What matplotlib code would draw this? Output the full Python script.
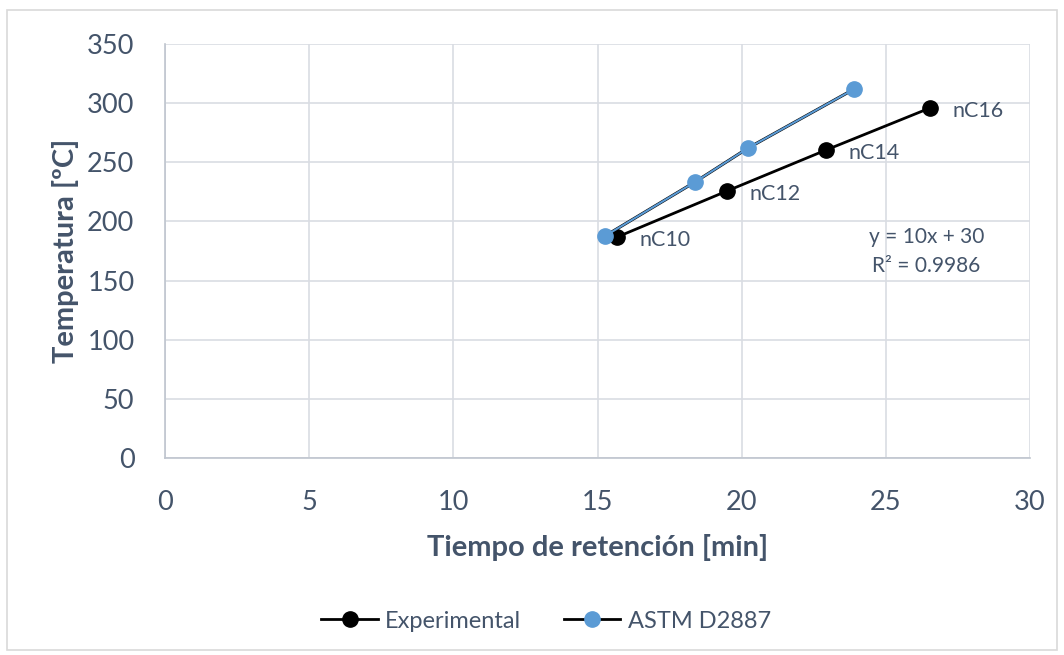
import matplotlib
matplotlib.use("Agg")
import matplotlib.pyplot as plt
from matplotlib.patches import Rectangle
from matplotlib.lines import Line2D

# Retention time [min] vs temperature [ºC]
exp_time = [15.68, 19.49, 22.93, 26.53]
exp_temp = [186.8, 225.7, 260.4, 295.9]
exp_labels = ["nC10", "nC12", "nC14", "nC16"]

astm_time = [15.26, 18.38, 20.22, 23.90]
astm_temp = [187.7, 233.3, 262.0, 311.9]

x_ticks = [0, 5, 10, 15, 20, 25, 30]
y_ticks = [0, 50, 100, 150, 200, 250, 300, 350]

TEXT = "#44546A"
GRID = "#D9DDE3"
BLUE = "#5B9BD5"
FONT = ["Lato", "DejaVu Sans"]
plt.rcParams["font.family"] = FONT

fig = plt.figure(figsize=(10.64, 6.55), dpi=100)
fig.patches.append(Rectangle((7 / 1064, 5 / 655), 1050 / 1064, (655 - 15) / 655,
                             transform=fig.transFigure, fill=False,
                             edgecolor="#D9D9D9", linewidth=1.2))

ax = fig.add_axes([165 / 1064, 1 - 458 / 655, (1030 - 165) / 1064, (458 - 44) / 655])
ax.set_xlim(0, 30)
ax.set_ylim(0, 350)
ax.set_xticks(x_ticks)
ax.set_yticks(y_ticks)
ax.grid(True, color=GRID, linewidth=1.2)
ax.set_axisbelow(True)
for s in ["top", "right"]:
    ax.spines[s].set_visible(False)
for s in ["left", "bottom"]:
    ax.spines[s].set_color("#BFC5CE")
    ax.spines[s].set_linewidth(1.2)
ax.tick_params(length=0, labelsize=19.5, colors=TEXT)
ax.tick_params(axis="y", pad=22)
ax.tick_params(axis="x", pad=23)

ax.plot(exp_time, exp_temp, color="black", linewidth=2, marker="o",
        markersize=11, markerfacecolor="black", markeredgecolor="black", zorder=3)
ax.plot(astm_time, astm_temp, color="black", linewidth=2.2, zorder=3)
ax.plot(astm_time, astm_temp, color=BLUE, linewidth=1.5, marker="o",
        markersize=11, markerfacecolor=BLUE, markeredgecolor=BLUE, zorder=4)

for x, y, lab in zip(exp_time, exp_temp, exp_labels):
    ax.annotate(lab, (x, y), xytext=(16, -2), textcoords="offset points",
                ha="left", va="center", fontsize=15.5, color=TEXT)

ax.text(26.4, 186.8, "y = 10x + 30", ha="center", va="center", fontsize=15, color=TEXT)
ax.text(26.4, 162.5, "R² = 0.9986", ha="center", va="center", fontsize=15, color=TEXT)

ax.set_xlabel("Tiempo de retención [min]", fontsize=21, fontweight="bold",
              color=TEXT, labelpad=14)
ax.set_ylabel("Temperatura [ºC]", fontsize=21, fontweight="bold",
              color=TEXT, labelpad=6)

handles = [
    Line2D([], [], color="black", linewidth=2, marker="o", markersize=11,
           markerfacecolor="black", markeredgecolor="black"),
    Line2D([], [], color="black", linewidth=2, marker="o", markersize=11,
           markerfacecolor=BLUE, markeredgecolor=BLUE),
]
fig.legend(handles, ["Experimental", "ASTM D2887"], loc="center",
           bbox_to_anchor=(546 / 1064, 1 - 621 / 655), ncol=2, frameon=False,
           fontsize=17, labelcolor=TEXT, handlelength=2.4, columnspacing=1.8,
           handletextpad=0.3)

fig.savefig("out.png", dpi=100)
